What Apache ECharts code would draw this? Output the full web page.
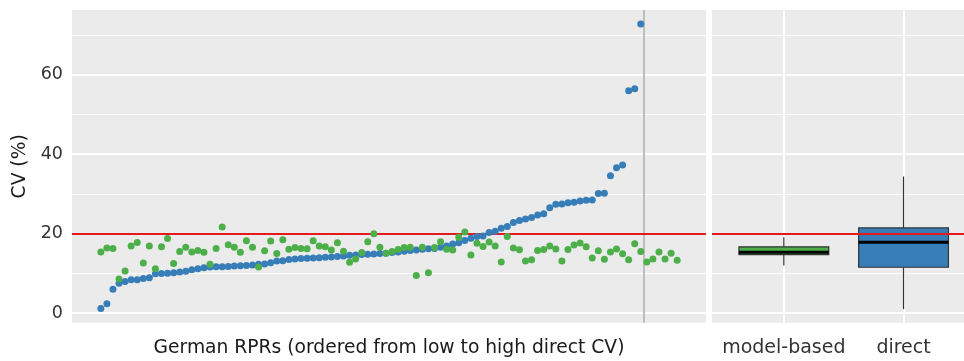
<!DOCTYPE html>
<html>
<head>
<meta charset="utf-8">
<script src="https://cdn.jsdelivr.net/npm/echarts@6/dist/echarts.min.js"></script>
<style>
html, body { margin: 0; padding: 0; background: #fff; }
#chart { width: 964px; height: 361px; }
</style>
</head>
<body>
<div id="chart"></div>
<script>
// direct CV (%) per RPR, ordered from low to high
const directCV = [
  1.2, 2.4, 6.0, 7.5, 8.0, 8.4, 8.4, 8.7, 8.9, 9.9,
  10.0, 10.05, 10.2, 10.35, 10.55, 10.9, 11.2, 11.4, 11.6, 11.7,
  11.7, 11.75, 11.9, 11.95, 12.0, 12.15, 12.3, 12.4, 12.7, 13.1,
  13.2, 13.5, 13.65, 13.75, 13.8, 13.9, 13.95, 14.1, 14.15, 14.25,
  14.4, 14.6, 14.65, 14.75, 14.8, 14.9, 15.0, 15.1, 15.25, 15.4,
  15.6, 15.75, 15.9, 16.1, 16.2, 16.25, 16.6, 16.9, 17.4, 17.75,
  18.3, 18.85, 19.3, 19.45, 20.3, 20.6, 21.4, 21.8, 22.8, 23.3,
  23.7, 24.05, 24.7, 25.0, 26.5, 27.4, 27.5, 27.8, 27.9, 28.25,
  28.4, 28.5, 30.1, 30.2, 34.6, 36.6, 37.3, 56.0, 56.5, 72.8
]
// model-based CV (%) in the same order, last six RPRs have no direct estimate
const modelCV = [
  15.4, 16.4, 16.3, 8.6, 10.6, 16.9, 17.8, 12.6, 16.9, 11.2,
  16.7, 18.8, 12.5, 15.5, 16.6, 15.4, 15.8, 15.35, 12.3, 16.3,
  21.7, 17.2, 16.6, 15.35, 18.2, 16.6, 11.6, 15.7, 18.15, 15.0,
  18.45, 16.1, 16.5, 16.25, 16.2, 18.2, 16.9, 16.7, 15.9, 17.75,
  15.6, 12.8, 13.65, 15.25, 18.0, 20.0, 16.6, 15.1, 15.55, 16.0,
  16.5, 16.6, 9.45, 16.6, 10.15, 16.5, 17.95, 16.1, 15.9, 19.1,
  20.45, 14.65, 17.6, 16.8, 17.9, 16.9, 12.85, 19.3, 16.4, 15.95,
  13.1, 13.45, 15.75, 16.05, 16.9, 16.15, 13.15, 16.0, 17.15, 17.65,
  16.7, 13.9, 15.7, 13.6, 15.4, 16.15, 14.95, 13.45, 17.45, 15.55,
  12.9, 13.65, 15.4, 13.65, 15.1, 13.3
]

// boxplot summary (right panel)
const boxCategories = ['model-based', 'direct']
const boxMin = [12.0, 1.0]
const boxQ1 = [14.75, 11.55]
const boxMedian = [15.35, 17.85]
const boxQ3 = [16.7, 21.45]
const boxMax = [19.1, 34.4]

const majorTicks = [0, 20, 40, 60]
const minorTicks = [10, 30, 50, 70]
const threshold = 20

// colours
const blue = '#377EB8'
const green = '#4DAF4A'
const boxColors = [green, blue]
const textFont = "'DejaVu Sans', sans-serif"

const nAreas = modelCV.length
const xPad = (nAreas - 1) * 0.05
const yMin = -2.4
const yMax = 76.3

const gridLineData = () => [
  ...minorTicks.map(v => ({ yAxis: v, lineStyle: { color: '#fff', width: 1, type: 'solid' } })),
  ...majorTicks.map(v => ({ yAxis: v, lineStyle: { color: '#fff', width: 2, type: 'solid' } }))
]

const markBase = { symbol: 'none', silent: true, animation: false, label: { show: false } }

const chart = echarts.init(document.getElementById('chart'))

const option = {
  animation: false,
  backgroundColor: '#fff',
  grid: [
    {
      left: 72, top: 10, right: 258, bottom: 38.3, outerBoundsMode: 'none',
      show: true, backgroundColor: '#EBEBEB', borderWidth: 0
    },
    // right panel is cut at the canvas edge
    {
      left: 712, top: 10, right: 0, bottom: 38.3, outerBoundsMode: 'none',
      show: true, backgroundColor: '#EBEBEB', borderWidth: 0
    }
  ],
  xAxis: [
    {
      gridIndex: 0, type: 'value', min: 1 - xPad, max: nAreas + xPad,
      axisLine: { show: false }, axisTick: { show: false }, axisLabel: { show: false }, splitLine: { show: false },
      name: 'German RPRs (ordered from low to high direct CV)',
      nameLocation: 'middle', nameGap: 16,
      nameTextStyle: { fontFamily: textFont, fontSize: 18.7, color: '#1a1a1a' }
    },
    {
      gridIndex: 1, type: 'value', min: 0.4, max: 2.505,
      axisLine: { show: false }, splitLine: { show: false },
      axisTick: { show: true, length: 5, lineStyle: { color: '#333', width: 1.5 }, customValues: [1, 2] },
      axisLabel: {
        show: true, margin: 16, customValues: [1, 2],
        formatter: v => boxCategories[Math.round(v) - 1],
        fontFamily: textFont, fontSize: 19, color: '#333'
      }
    }
  ],
  yAxis: [
    {
      gridIndex: 0, type: 'value', min: yMin, max: yMax,
      axisLine: { show: false }, splitLine: { show: false },
      axisTick: { show: true, length: 5, lineStyle: { color: '#333', width: 1.5 }, customValues: majorTicks },
      axisLabel: { show: true, margin: 9, customValues: majorTicks, fontFamily: textFont, fontSize: 17.5, color: '#333' },
      name: 'CV (%)', nameLocation: 'middle', nameGap: 37, nameRotate: 90,
      nameTextStyle: { fontFamily: textFont, fontSize: 18.7, color: '#1a1a1a' }
    },
    {
      gridIndex: 1, type: 'value', min: yMin, max: yMax,
      axisLine: { show: false }, splitLine: { show: false }, axisTick: { show: false }, axisLabel: { show: false }
    }
  ],
  series: [
    // background grid lines, left panel
    {
      type: 'line', xAxisIndex: 0, yAxisIndex: 0, data: [],
      markLine: { ...markBase, z: 1, data: gridLineData() }
    },
    // background grid lines, right panel
    {
      type: 'line', xAxisIndex: 1, yAxisIndex: 1, data: [],
      markLine: {
        ...markBase, z: 1,
        data: [
          ...gridLineData(),
          ...boxCategories.map((c, i) => ({ xAxis: i + 1, lineStyle: { color: '#fff', width: 2, type: 'solid' } }))
        ]
      }
    },
    // boxplots
    {
      type: 'custom', xAxisIndex: 1, yAxisIndex: 1, z: 1.2,
      data: boxCategories.map((c, i) => [i + 1, boxMin[i], boxQ1[i], boxMedian[i], boxQ3[i], boxMax[i]]),
      renderItem: (params, api) => {
        const x = api.value(0)
        const half = api.size([0.75, 0])[0] / 2
        const pMin = api.coord([x, api.value(1)])
        const pQ1 = api.coord([x, api.value(2)])
        const pMed = api.coord([x, api.value(3)])
        const pQ3 = api.coord([x, api.value(4)])
        const pMax = api.coord([x, api.value(5)])
        const stroke = { stroke: '#333', lineWidth: 1.2 }
        return {
          type: 'group',
          children: [
            { type: 'line', shape: { x1: pMin[0], y1: pMin[1], x2: pQ1[0], y2: pQ1[1] }, style: stroke },
            { type: 'line', shape: { x1: pQ3[0], y1: pQ3[1], x2: pMax[0], y2: pMax[1] }, style: stroke },
            {
              type: 'rect',
              shape: { x: pQ3[0] - half, y: pQ3[1], width: half * 2, height: pQ1[1] - pQ3[1] },
              style: { fill: boxColors[params.dataIndex], stroke: '#333', lineWidth: 1.2 }
            },
            {
              type: 'line',
              shape: { x1: pMed[0] - half, y1: pMed[1], x2: pMed[0] + half, y2: pMed[1] },
              style: { stroke: '#000', lineWidth: 3 }
            }
          ]
        }
      }
    },
    // 20 % threshold + split between areas with / without direct estimate
    {
      type: 'line', xAxisIndex: 0, yAxisIndex: 0, data: [],
      markLine: {
        ...markBase, z: 1.5,
        data: [
          { xAxis: directCV.length + 0.5, lineStyle: { color: '#BEBEBE', width: 2, type: 'solid' } },
          { yAxis: threshold, lineStyle: { color: '#E41A1C', width: 2, type: 'solid' } }
        ]
      }
    },
    {
      type: 'line', xAxisIndex: 1, yAxisIndex: 1, data: [],
      markLine: {
        ...markBase, z: 1.5,
        data: [{ yAxis: threshold, lineStyle: { color: '#E41A1C', width: 2, type: 'solid' } }]
      }
    },
    {
      name: 'direct', type: 'scatter', xAxisIndex: 0, yAxisIndex: 0, z: 2,
      symbolSize: 7, itemStyle: { color: blue, opacity: 1 },
      data: directCV.map((v, i) => [i + 1, v])
    },
    {
      name: 'model-based', type: 'scatter', xAxisIndex: 0, yAxisIndex: 0, z: 2,
      symbolSize: 7, itemStyle: { color: green, opacity: 1 },
      data: modelCV.map((v, i) => [i + 1, v])
    }
  ]
}

chart.setOption(option)
</script>
</body>
</html>
